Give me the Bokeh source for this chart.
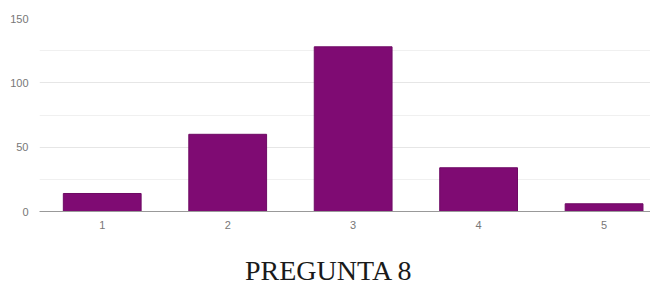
from bokeh.plotting import figure
from bokeh.models import Range1d, FixedTicker, Div
from bokeh.layouts import column
from bokeh.embed import file_html
from bokeh.resources import INLINE

answers = [1, 2, 3, 4, 5]
counts = [14, 60, 128, 34, 6]
y_ticks = [0, 50, 100, 150]
title_text = "PREGUNTA 8"

p = figure(width=650, height=241, output_backend="svg", toolbar_location=None,
           x_range=Range1d(0.5, 5.37), y_range=Range1d(0, 150),
           min_border_left=39, min_border_right=0, min_border_top=18,
           min_border_bottom=30)
p.outline_line_color = None
p.vbar(x=answers, top=counts, width=0.62, fill_color="#7f0b73", line_color="#6e0a64", line_width=1)

p.xaxis.ticker = FixedTicker(ticks=answers)
p.yaxis.ticker = FixedTicker(ticks=y_ticks, minor_ticks=[25, 75, 125])
p.xgrid.grid_line_color = None
p.ygrid.grid_line_color = "#e6e6e6"
p.ygrid.minor_grid_line_color = "#f0f0f0"
p.yaxis.axis_line_color = None
p.yaxis.major_tick_line_color = None
p.yaxis.minor_tick_line_color = None
p.yaxis.major_tick_out = 0
p.yaxis.minor_tick_out = 0
p.yaxis.major_label_standoff = 11
p.xaxis.axis_line_color = "#999999"
p.xaxis.major_tick_line_color = None
p.xaxis.minor_tick_line_color = None
p.xaxis.major_tick_out = 0
p.xaxis.minor_tick_out = 0
p.xaxis.major_label_standoff = 9
for ax in (p.xaxis, p.yaxis):
    ax.major_label_text_font = "Arial"
    ax.major_label_text_font_size = "11px"
    ax.major_label_text_color = "#777777"

title = Div(text=('<div style="font-family: \'Liberation Serif\'; font-size: 28px; '
                  'line-height: 28px; padding-top: 16px; padding-left: 245px; '
                  'color: #1a1a1a; white-space: nowrap;">' + title_text + '</div>'),
            width=650, height=46, margin=0)

layout = column(p, title, spacing=0)
open("out.html", "w").write(file_html(layout, INLINE))
